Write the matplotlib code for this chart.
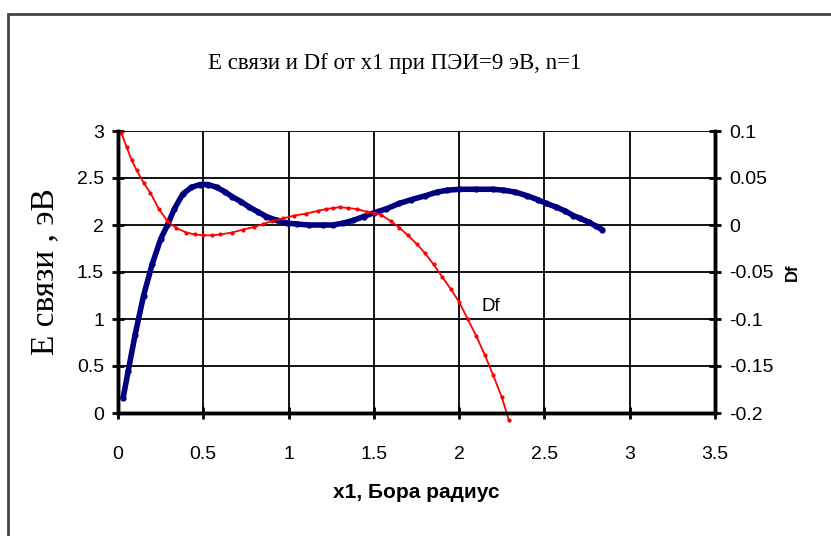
import matplotlib.pyplot as plt
from matplotlib.patches import Rectangle

# E binding energy (left axis)
x_e = [0.03, 0.06, 0.1, 0.15, 0.2, 0.25, 0.29, 0.33, 0.38, 0.43, 0.48, 0.53, 0.58,
       0.63, 0.67, 0.72, 0.77, 0.82, 0.87, 0.93, 0.99, 1.05, 1.12, 1.2, 1.26, 1.32,
       1.38, 1.44, 1.5, 1.57, 1.65, 1.72, 1.8, 1.87, 1.93, 2.0, 2.1, 2.2, 2.26, 2.33,
       2.4, 2.46, 2.51, 2.57, 2.62, 2.67, 2.71, 2.76, 2.8, 2.84]
e_val = [0.16, 0.45, 0.83, 1.25, 1.58, 1.85, 2.0, 2.17, 2.33, 2.40, 2.43, 2.43, 2.40,
         2.35, 2.30, 2.25, 2.19, 2.14, 2.09, 2.05, 2.02, 2.01, 2.0, 2.0, 2.0, 2.02,
         2.05, 2.09, 2.13, 2.17, 2.23, 2.27, 2.31, 2.35, 2.37, 2.38, 2.38, 2.38, 2.37, 2.35,
         2.31, 2.27, 2.23, 2.19, 2.15, 2.10, 2.07, 2.03, 1.99, 1.95]

# Df (right axis)
x_df = [0.02, 0.05, 0.08, 0.11, 0.15, 0.19, 0.24, 0.29, 0.34, 0.4, 0.45, 0.5, 0.55,
        0.6, 0.67, 0.73, 0.8, 0.85, 0.9, 0.97, 1.03, 1.1, 1.17, 1.22, 1.26, 1.3, 1.35,
        1.4, 1.46, 1.5, 1.54, 1.6, 1.65, 1.7, 1.75, 1.8, 1.85, 1.9, 1.95, 2.0, 2.05,
        2.1, 2.15, 2.2, 2.25, 2.29]
df_val = [0.098, 0.083, 0.069, 0.058, 0.045, 0.034, 0.017, 0.004, -0.003, -0.008, -0.010,
          -0.011, -0.011, -0.010, -0.008, -0.005, -0.002, 0.001, 0.004, 0.007, 0.010, 0.012,
          0.015, 0.017, 0.018, 0.019, 0.018, 0.017, 0.014, 0.013, 0.011, 0.004, -0.003,
          -0.011, -0.020, -0.030, -0.042, -0.055, -0.068, -0.082, -0.100, -0.118, -0.138,
          -0.160, -0.183, -0.207]

fig = plt.figure(figsize=(8.31, 5.36), dpi=100)
fig.patches.append(Rectangle((8 / 831, -0.1), 1.2, 1 - 14 / 536 + 0.1,
                             transform=fig.transFigure, fill=False,
                             edgecolor='#444444', linewidth=2))

ax = fig.add_axes([118 / 831, 1 - 413 / 536, (715 - 118) / 831, (413 - 131) / 536])
ax2 = ax.twinx()

ax.plot(x_e, e_val, color='#000080', linewidth=4, marker='o', markersize=3.5,
        solid_capstyle='round')
ax2.plot(x_df, df_val, color='#ff0000', linewidth=1.3, marker='o', markersize=2,
         clip_on=False)

ax.set_xlim(0, 3.5)
ax.set_ylim(0, 3)
ax2.set_ylim(-0.2, 0.1)
ax.set_xticks([0, 0.5, 1, 1.5, 2, 2.5, 3, 3.5])
ax.set_xticklabels(['0', '0.5', '1', '1.5', '2', '2.5', '3', '3.5'])
ax.set_yticks([0, 0.5, 1, 1.5, 2, 2.5, 3])
ax.set_yticklabels(['0', '0.5', '1', '1.5', '2', '2.5', '3'])
ax2.set_yticks([-0.2, -0.15, -0.1, -0.05, 0, 0.05, 0.1])
ax2.set_yticklabels(['-0.2', '-0.15', '-0.1', '-0.05', '0', '0.05', '0.1'])

ax.grid(True, color='black', linewidth=1.3)
ax.set_axisbelow(True)
for a in (ax, ax2):
    a.spines['top'].set_visible(False)
    a.spines['left'].set_linewidth(2.5)
    a.spines['bottom'].set_linewidth(2.5)
    a.spines['right'].set_linewidth(2.5)

ax.tick_params(axis='x', direction='inout', length=8, width=2, pad=20, labelsize=14)
ax.tick_params(axis='y', direction='inout', length=8, width=2, pad=6, labelsize=14)
ax2.tick_params(axis='y', direction='inout', length=8, width=2, pad=6, labelsize=14)
for lab in ax.get_xticklabels() + ax.get_yticklabels() + ax2.get_yticklabels():
    lab.set_family('Liberation Sans')

ax.set_xlabel('x1, Бора радиус', fontsize=15, fontweight='bold',
              family='Liberation Sans', labelpad=14)
ax.set_ylabel('E связи , эВ', fontsize=24, family='Liberation Serif', labelpad=12)
ax2.set_ylabel('Df', fontsize=12, fontweight='bold', family='Liberation Sans', labelpad=8)

ax.text(2.13, 1.08, 'Df', fontsize=13.5, family='Liberation Sans')
fig.text(395 / 831, 1 - 63 / 536, 'E связи и Df от x1 при ПЭИ=9 эВ, n=1',
         ha='center', va='center', fontsize=16.5, family='Liberation Serif')

fig.savefig('out.png', dpi=100)
